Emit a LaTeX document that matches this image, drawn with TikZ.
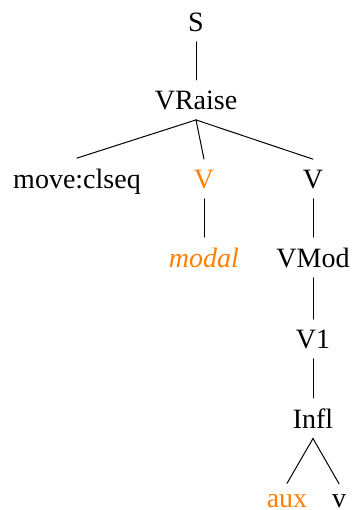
\documentclass[tikz,border=0pt]{standalone}
\usepackage{fontspec}
\setmainfont{Liberation Serif}

\begin{document}
\begin{tikzpicture}[x=0.5pt,y=-0.5pt,line width=0.5pt,line cap=round,font=\fontsize{14}{17}\selectfont]
	\tikzstyle{cat}=[anchor=base,inner xsep=1pt,inner ysep=5pt];
	\tikzstyle{hl}=[cat,text=orange];
	\useasboundingbox (0,0) rectangle (352,510);
	\node[cat] (s)      at (196,31)  {S};
	\node[cat] (vraise) at (196,109) {VRaise};
	\node[cat] (move)   at (77,188)  {move:clseq};
	\node[hl]  (vl)     at (204,188) {V};
	\node[cat] (vr)     at (313,188) {V};
	\node[hl]  (modal)  at (204,267) {\itshape modal};
	\node[cat] (vmod)   at (313,267) {VMod};
	\node[cat] (vone)   at (313,348) {V1};
	\node[cat] (infl)   at (313,428) {Infl};
	\node[hl]  (aux)    at (287,507) {aux};
	\node[cat] (v)      at (339,507) {v};
	\draw (s.south) -- (vraise.north);
	\draw (vraise.south) -- (move.north);
	\draw (vraise.south) -- (vl.north);
	\draw (vraise.south) -- (vr.north);
	\draw (vl.south) -- (modal.north);
	\draw (vr.south) -- (vmod.north);
	\draw (vmod.south) -- (vone.north);
	\draw (vone.south) -- (infl.north);
	\draw (infl.south) -- (aux.north);
	\draw (infl.south) -- (v.north);
\end{tikzpicture}
\end{document}
